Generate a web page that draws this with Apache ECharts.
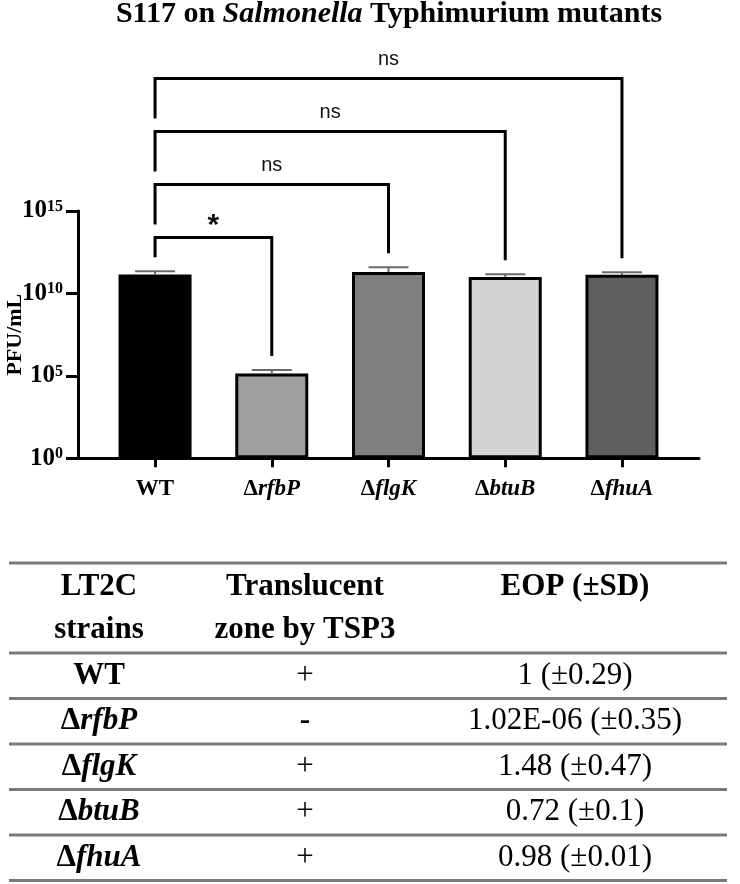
<!DOCTYPE html>
<html><head><meta charset="utf-8">
<script src="https://cdn.jsdelivr.net/npm/echarts@6/dist/echarts.min.js"></script>
<style>html,body{margin:0;padding:0;background:#fff}#c{width:740px;height:884px}</style>
</head><body><div id="c"></div>
<script>
// ---------- data ----------
const categories = ['WT', 'ΔrfbP', 'ΔflgK', 'ΔbtuB', 'ΔfhuA'];
const pfuMean = [1.4e11, 1.4e5, 2.0e11, 1.0e11, 1.35e11];
const pfuSdTop = [2.2e11, 2.3e5, 3.9e11, 1.47e11, 1.9e11];
const yTickValues = [1, 1e5, 1e10, 1e15];
const comparisons = [[0, 1, '*'], [0, 2, 'ns'], [0, 3, 'ns'], [0, 4, 'ns']];
const tableHeaders = [['LT2C', 'strains'], ['Translucent', 'zone by TSP3'], ['EOP (±SD)']];
const translucentZone = ['+', '-', '+', '+', '+'];
const eopText = ['1 (±0.29)', '1.02E-06 (±0.35)', '1.48 (±0.47)', '0.72 (±0.1)', '0.98 (±0.01)'];

// ---------- style ----------
const barColors = ['#000000', '#9f9fa1', '#7f7f7f', '#d4d4d4', '#5f5f5f'];
const SERIF = '"Liberation Serif","Times New Roman",serif';
const SANS = '"Liberation Sans",Arial,sans-serif';
const Y_MIN = 1, Y_MAX = 1e15;
// keep the top tick just inside the extent so rounding never drops it
const yTickPositions = yTickValues.map(v => Math.min(v, Y_MAX * (1 - 1e-7)));

function geneRich(name) {
  if (name.charAt(0) === 'Δ') return '{d|Δ}{i|' + name.slice(1) + '}';
  return '{d|' + name + '}';
}

const chart = echarts.init(document.getElementById('c'), null, {renderer: 'canvas'});

// table graphics
const tableGraphics = [];
const tLeft = 9, tRight = 727;
const colX = [99, 305, 575];
const tTop = 563, headerH = 90, rowH = 45.5;
const lineYs = [tTop, tTop + headerH];
for (let i = 1; i <= categories.length; i++) lineYs.push(tTop + headerH + i * rowH);
lineYs.forEach(y => tableGraphics.push({
  type: 'line', shape: {x1: tLeft, y1: y, x2: tRight, y2: y},
  style: {stroke: '#7a7a7a', lineWidth: 3}, silent: true
}));
const baseText = {fill: '#000', fontFamily: SERIF, fontSize: 31, align: 'center', verticalAlign: 'middle'};
tableHeaders.forEach((lines, c) => {
  lines.forEach((t, k) => tableGraphics.push({
    type: 'text', x: colX[c], y: tTop + 24 + k * 43,
    style: Object.assign({}, baseText, {text: t, fontWeight: 'bold'})
  }));
});
categories.forEach((name, r) => {
  const cy = tTop + headerH + (r + 0.5) * rowH;
  tableGraphics.push({
    type: 'text', x: colX[0], y: cy,
    style: Object.assign({}, baseText, {
      text: geneRich(name),
      rich: {
        d: {fontFamily: SERIF, fontSize: 31, fontWeight: 'bold', fill: '#000'},
        i: {fontFamily: SERIF, fontSize: 31, fontWeight: 'bold', fontStyle: 'italic', fill: '#000'}
      }
    })
  });
  tableGraphics.push({
    type: 'text', x: colX[1], y: cy,
    style: Object.assign({}, baseText, {text: translucentZone[r], fontWeight: translucentZone[r] === '-' ? 'bold' : 'normal'})
  });
  tableGraphics.push({
    type: 'text', x: colX[2], y: cy,
    style: Object.assign({}, baseText, {text: eopText[r]})
  });
});

// title
tableGraphics.push({
  type: 'text', x: 389, y: 14,
  style: {
    text: '{b|S117 on }{i|Salmonella}{b| Typhimurium mutants}',
    align: 'center', verticalAlign: 'middle',
    rich: {
      b: {fontFamily: SERIF, fontSize: 30, fontWeight: 'bold', fill: '#000'},
      i: {fontFamily: SERIF, fontSize: 30, fontWeight: 'bold', fontStyle: 'italic', fill: '#000'}
    }
  }
});

const option = {
  animation: false,
  backgroundColor: '#fff',
  grid: {left: 78, right: 41, top: 211, bottom: 425.7, containLabel: false, outerBoundsMode: 'none'},
  xAxis: {
    type: 'value', min: -0.66, max: 4.66,
    splitLine: {show: false},
    axisLine: {onZero: false, lineStyle: {color: '#000', width: 3}},
    axisTick: {show: true, customValues: [0, 1, 2, 3, 4], length: 9, lineStyle: {color: '#000', width: 3}},
    axisLabel: {
      customValues: [0, 1, 2, 3, 4], margin: 19,
      formatter: v => geneRich(categories[Math.round(v)]),
      rich: {
        d: {fontFamily: SERIF, fontSize: 23, fontWeight: 'bold', color: '#000'},
        i: {fontFamily: SERIF, fontSize: 23, fontWeight: 'bold', fontStyle: 'italic', color: '#000'}
      }
    }
  },
  yAxis: {
    type: 'log', logBase: 10, min: Y_MIN, max: Y_MAX,
    name: 'PFU/mL', nameLocation: 'middle', nameRotate: 90, nameGap: 52, nameMoveOverlap: false,
    nameTextStyle: {fontFamily: SERIF, fontSize: 22, fontWeight: 'bold', color: '#000'},
    splitLine: {show: false},
    minorTick: {show: false},
    axisLine: {show: true, onZero: false, lineStyle: {color: '#000', width: 3}},
    axisTick: {show: true, customValues: yTickPositions, length: 12, lineStyle: {color: '#000', width: 3}},
    axisLabel: {
      customValues: yTickPositions, margin: 15, showMaxLabel: true, showMinLabel: true, hideOverlap: false,
      formatter: v => '{b|10}{s|' + Math.round(Math.log10(v)) + '}',
      rich: {
        b: {fontFamily: SERIF, fontSize: 25, fontWeight: 'bold', color: '#000'},
        s: {fontFamily: SERIF, fontSize: 16, fontWeight: 'bold', color: '#000', verticalAlign: 'top'}
      }
    }
  },
  series: [
    {
      type: 'bar', barWidth: 73,
      data: pfuMean.map((v, i) => ({value: [i, v], itemStyle: {color: barColors[i]}})),
      itemStyle: {borderColor: '#000', borderWidth: 3},
      z: 2
    },
    {
      type: 'custom', clip: false, z: 3,
      encode: {x: 0, y: 1},
      data: pfuMean.map((v, i) => [i, v, pfuSdTop[i]]),
      renderItem: (params, api) => {
        const base = api.coord([api.value(0), api.value(1)]);
        const top = api.coord([api.value(0), api.value(2)]);
        return {
          type: 'group', children: [
            {type: 'line', shape: {x1: base[0], y1: base[1], x2: top[0], y2: top[1]}, style: {stroke: '#6a6a6a', lineWidth: 2}},
            {type: 'line', shape: {x1: top[0] - 20, y1: top[1], x2: top[0] + 20, y2: top[1]}, style: {stroke: '#6a6a6a', lineWidth: 2}}
          ]
        };
      }
    },
    {
      type: 'custom', clip: false, z: 4,
      encode: {x: 0, y: 1},
      data: comparisons.map((c, k) => [c[0], c[1], k]),
      renderItem: (params, api) => {
        const a = api.value(0), b = api.value(1), k = api.value(2);
        const c = comparisons[params.dataIndex];
        const axisTop = api.coord([0, Y_MAX])[1];
        const lineY = axisTop + 26.5 - k * 53;
        const xa = api.coord([a, 1])[0], xb = api.coord([b, 1])[0];
        const leftBottom = Math.min(lineY + 40, api.coord([a, pfuSdTop[a]])[1] - 14);
        const rightBottom = api.coord([b, pfuSdTop[b]])[1] - 14;
        const isStar = c[2] === '*';
        return {
          type: 'group', children: [
            {type: 'polyline', shape: {points: [[xa, leftBottom], [xa, lineY], [xb, lineY], [xb, rightBottom]]},
             style: {stroke: '#000', lineWidth: 3, fill: null}},
            {type: 'text', x: (xa + xb) / 2, y: lineY - (isStar ? 12 : 19),
             style: {text: c[2], align: 'center', verticalAlign: 'middle', fill: '#111',
                     fontFamily: SANS, fontSize: isStar ? 30 : 20, fontWeight: isStar ? 'bold' : 'normal'}}
          ]
        };
      }
    }
  ],
  graphic: tableGraphics
};
chart.setOption(option);
</script></body></html>
